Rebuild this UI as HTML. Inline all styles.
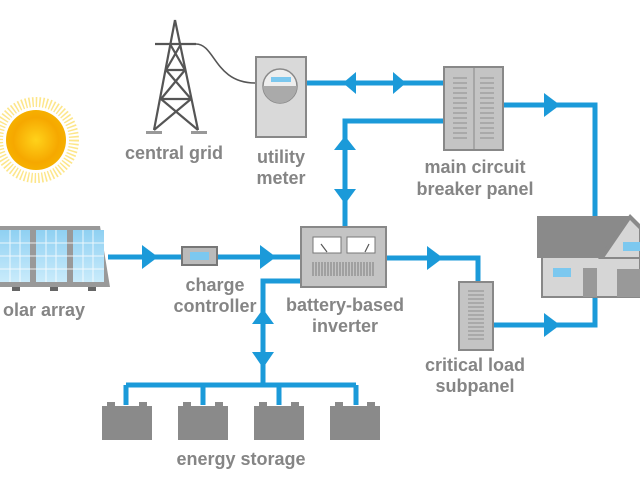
<!DOCTYPE html>
<html><head><meta charset="utf-8"><style>
html,body{margin:0;padding:0;background:#fff;}
svg{display:block;}
text{font-family:"Liberation Sans",sans-serif;font-size:18px;font-weight:bold;fill:#858585;text-anchor:middle;}
</style></head><body>
<svg width="640" height="480" viewBox="0 0 640 480" xmlns="http://www.w3.org/2000/svg">
<defs>
<radialGradient id="sun" cx="0.5" cy="0.5" r="0.5">
<stop offset="0" stop-color="#ffd21a"/><stop offset="0.75" stop-color="#f6a800"/><stop offset="1" stop-color="#f6b000"/>
</radialGradient>
<linearGradient id="pv" x1="0" y1="0" x2="0" y2="1"><stop offset="0" stop-color="#8fd0f2"/><stop offset="1" stop-color="#c9ebfb"/></linearGradient>
</defs>
<circle cx="36" cy="140" r="38" fill="none" stroke="#fde68a" stroke-dasharray="1.5 2" stroke-width="10"/>
<circle cx="36" cy="140" r="30" fill="url(#sun)"/>
<g stroke="#1b9ad9" stroke-width="5" fill="none">
<line x1="306" y1="83" x2="444" y2="83"/>
<polyline points="503,105 595,105 595,216"/>
<polyline points="444,121 345,121 345,228"/>
<line x1="108" y1="257" x2="301" y2="257"/>
<polyline points="386,258 478,258 478,283"/>
<polyline points="493,325 595,325 595,296"/>
<polyline points="301,281 263,281 263,386"/>
<line x1="126" y1="385" x2="356" y2="385"/>
<line x1="126" y1="385" x2="126" y2="405"/>
<line x1="203" y1="385" x2="203" y2="405"/>
<line x1="279" y1="385" x2="279" y2="405"/>
<line x1="356" y1="385" x2="356" y2="405"/>
</g>
<g fill="#1b9ad9">
<polygon points="343,83 356,72 356,94"/>
<polygon points="406,83 393,72 393,94"/>
<polygon points="560,105 544,93 544,117"/>
<polygon points="345,136 334,150 356,150"/>
<polygon points="345,204 334,189 356,189"/>
<polygon points="158,257 142,245 142,269"/>
<polygon points="276,257 260,245 260,269"/>
<polygon points="443,258 427,246 427,270"/>
<polygon points="560,325 544,313 544,337"/>
<polygon points="263,309 252,324 274,324"/>
<polygon points="263,368 252,352 274,352"/>
</g>
<g stroke="#555" stroke-width="2.2" fill="none">
<line x1="175" y1="20" x2="154" y2="130"/>
<line x1="175" y1="20" x2="198" y2="130"/>
<line x1="155" y1="44" x2="196" y2="44"/>
<path d="M196,44 C215,44 215,83 255,83" stroke-width="1.6"/>
<line x1="166" y1="70" x2="185" y2="70"/>
<line x1="161" y1="99" x2="191" y2="99"/>
<line x1="170" y1="44" x2="185" y2="70"/><line x1="181" y1="44" x2="166" y2="70"/>
<line x1="166" y1="70" x2="191" y2="99"/><line x1="185" y1="70" x2="161" y2="99"/>
<line x1="161" y1="99" x2="198" y2="130"/><line x1="191" y1="99" x2="154" y2="130"/>
</g>
<rect x="146" y="131" width="16" height="3" fill="#999"/><rect x="191" y="131" width="16" height="3" fill="#999"/>
<rect x="256" y="57" width="50" height="80" fill="#d9d9d9" stroke="#888" stroke-width="2"/>
<circle cx="280" cy="86" r="17" fill="#eee" stroke="#888" stroke-width="1.5"/>
<path d="M263,86 A17,17 0 0,0 297,86 Z" fill="#aaa"/>
<rect x="271" y="77" width="20" height="5" fill="#7cc8ef"/>
<rect x="444" y="67" width="59" height="83" fill="#c4c4c4" stroke="#888" stroke-width="2"/>
<line x1="474" y1="67" x2="474" y2="150" stroke="#888" stroke-width="1"/>
<g stroke="#999" stroke-width="1.2">
<path d="M453,78h14M480,78h14M453,83h14M480,83h14M453,88h14M480,88h14M453,93h14M480,93h14M453,98h14M480,98h14M453,103h14M480,103h14M453,108h14M480,108h14M453,113h14M480,113h14M453,118h14M480,118h14M453,123h14M480,123h14M453,128h14M480,128h14M453,133h14M480,133h14M453,138h14M480,138h14"/>
</g>
<polygon points="-10,226 100,226 110,287 -10,287" fill="#999"/>
<rect x="0" y="230" width="30" height="52" fill="url(#pv)"/>
<rect x="36" y="230" width="31" height="52" fill="url(#pv)"/>
<rect x="73" y="230" width="31" height="52" fill="url(#pv)"/>
<g stroke="#fff" stroke-width="1" opacity="0.8">
<path d="M0,243h104M0,256h104M0,269h104M10,230v52M20,230v52M46,230v52M56,230v52M83,230v52M93,230v52"/>
</g>
<rect x="12" y="287" width="8" height="4" fill="#666"/><rect x="50" y="287" width="8" height="4" fill="#666"/><rect x="88" y="287" width="8" height="4" fill="#666"/>
<rect x="182" y="247" width="35" height="18" fill="#bbb" stroke="#777" stroke-width="2"/>
<rect x="190" y="252" width="19" height="8" fill="#7cc8ef"/>
<rect x="301" y="227" width="85" height="60" fill="#c4c4c4" stroke="#888" stroke-width="2"/>
<rect x="313" y="237" width="28" height="16" fill="#fff" stroke="#777"/>
<rect x="347" y="237" width="28" height="16" fill="#fff" stroke="#777"/>
<line x1="321" y1="244" x2="327" y2="252" stroke="#555" stroke-width="1.2"/>
<line x1="369" y1="244" x2="365" y2="252" stroke="#555" stroke-width="1.2"/>
<g stroke="#888" stroke-width="1.2">
<path d="M313,262v14M316,262v14M319,262v14M322,262v14M325,262v14M328,262v14M331,262v14M334,262v14M337,262v14M340,262v14M343,262v14M346,262v14M349,262v14M352,262v14M355,262v14M358,262v14M361,262v14M364,262v14M367,262v14M370,262v14M373,262v14"/>
</g>
<rect x="459" y="282" width="34" height="68" fill="#c4c4c4" stroke="#888" stroke-width="2"/>
<g stroke="#999" stroke-width="1.2">
<path d="M468,291h16M468,295h16M468,299h16M468,303h16M468,307h16M468,311h16M468,315h16M468,319h16M468,323h16M468,327h16M468,331h16M468,335h16M468,339h16"/>
</g>
<rect x="542" y="255" width="98" height="42" fill="#d6d6d6" stroke="#888" stroke-width="2"/>
<polygon points="537,216 630,216 600,258 537,258" fill="#8a8a8a"/>
<polygon points="600,258 630,216 640,226 640,258" fill="#d6d6d6" stroke="#888" stroke-width="2"/>
<polygon points="598,258 630,214 640,224 640,230 630,220 604,258" fill="#8a8a8a"/>
<rect x="553" y="268" width="18" height="9" fill="#7cc8ef"/>
<rect x="583" y="268" width="14" height="29" fill="#999"/>
<rect x="623" y="242" width="17" height="9" fill="#7cc8ef"/>
<rect x="617" y="269" width="23" height="28" fill="#999"/>
<g fill="#8a8a8a">
<rect x="102" y="406" width="50" height="34"/><rect x="107" y="402" width="8" height="5"/><rect x="139" y="402" width="8" height="5"/>
<rect x="178" y="406" width="50" height="34"/><rect x="183" y="402" width="8" height="5"/><rect x="215" y="402" width="8" height="5"/>
<rect x="254" y="406" width="50" height="34"/><rect x="259" y="402" width="8" height="5"/><rect x="291" y="402" width="8" height="5"/>
<rect x="330" y="406" width="50" height="34"/><rect x="335" y="402" width="8" height="5"/><rect x="367" y="402" width="8" height="5"/>
</g>
<text x="174" y="159">central grid</text>
<text x="281" y="163">utility</text>
<text x="281" y="184">meter</text>
<text x="475" y="173">main circuit</text>
<text x="475" y="195">breaker panel</text>
<text x="44" y="316">olar array</text>
<text x="215" y="291">charge</text>
<text x="215" y="312">controller</text>
<text x="345" y="311">battery-based</text>
<text x="345" y="332">inverter</text>
<text x="475" y="371">critical load</text>
<text x="475" y="392">subpanel</text>
<text x="241" y="465">energy storage</text>
</svg>
</body></html>
